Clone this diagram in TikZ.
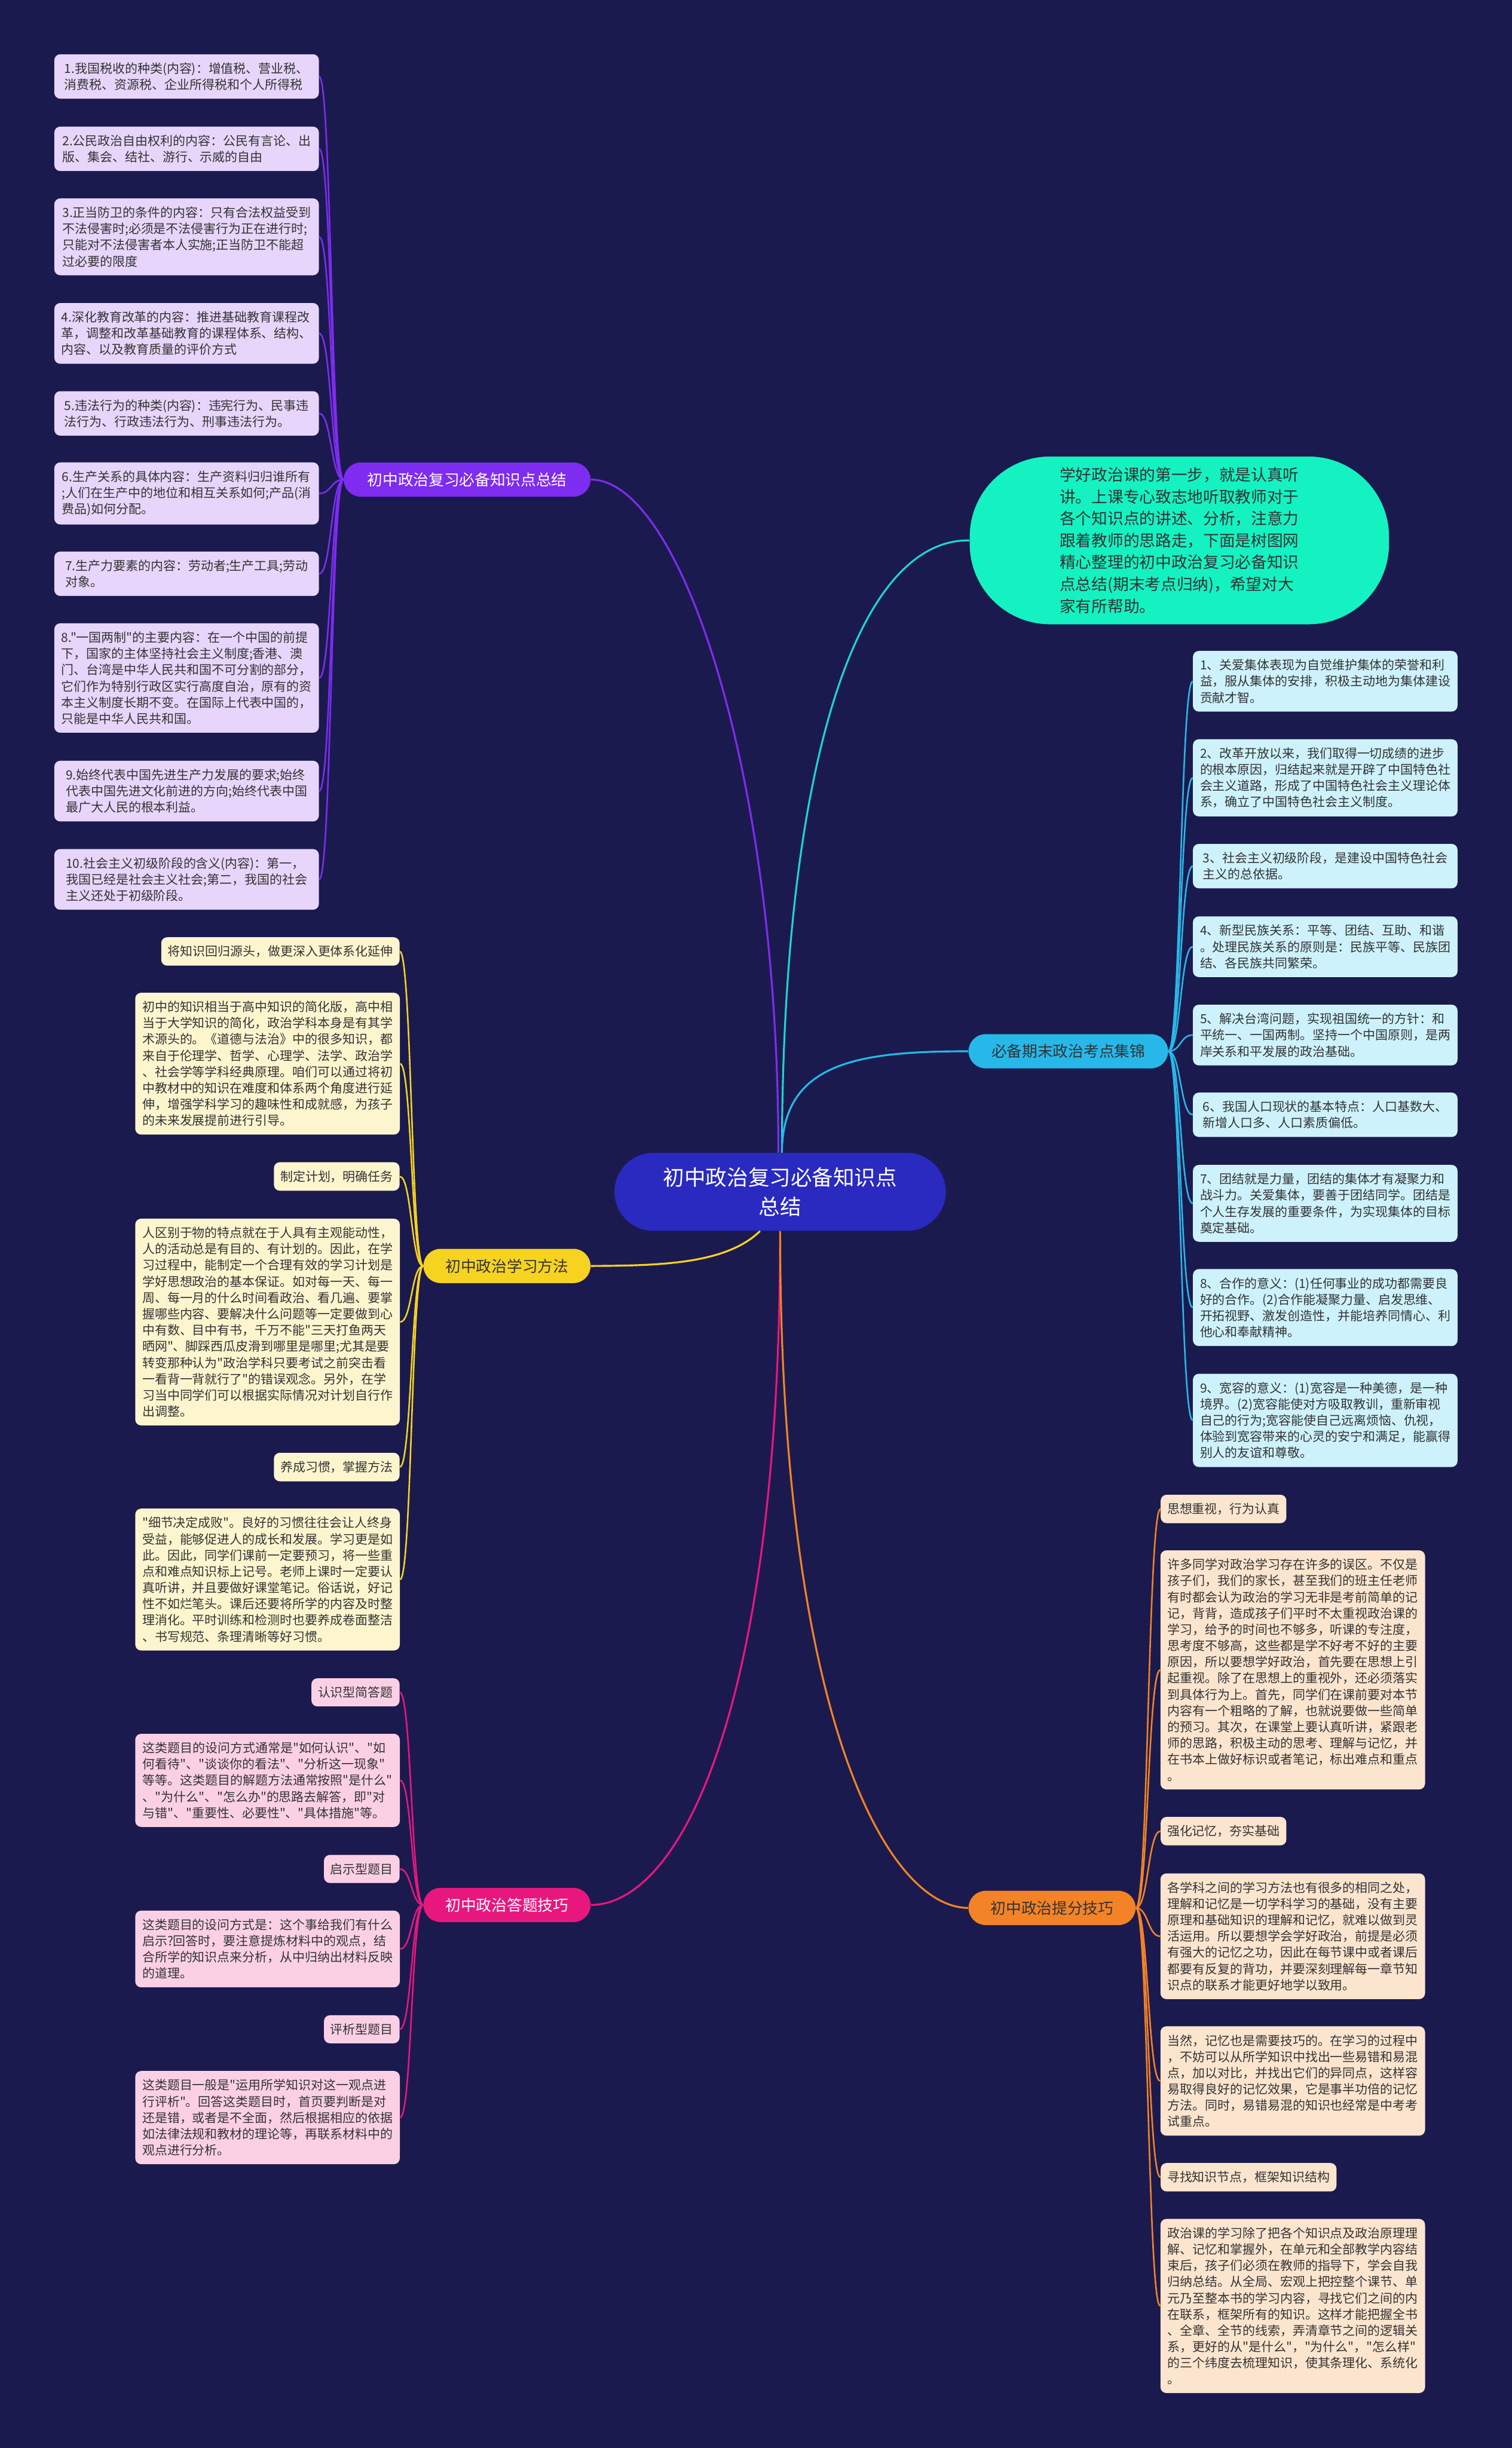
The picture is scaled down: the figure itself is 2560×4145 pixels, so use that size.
\documentclass[tikz,border=0pt]{standalone}
\usepackage{fontspec}
\setmainfont{Noto Sans CJK SC}[Ligatures=TeXOff]
\usetikzlibrary{positioning}

\definecolor{bgnavy}{HTML}{1B1A4E}
\definecolor{rootblue}{HTML}{2A2AC0}
\definecolor{leaftext}{HTML}{333333}
\definecolor{kpline}{HTML}{7E2CF0}
\definecolor{kpfill}{HTML}{E7D5FB}
\definecolor{xfline}{HTML}{F6D321}
\definecolor{xffill}{HTML}{FDF5CE}
\definecolor{dtline}{HTML}{E8177E}
\definecolor{dtfill}{HTML}{FBD0E5}
\definecolor{kdline}{HTML}{27B8E9}
\definecolor{kdfill}{HTML}{CDF2FC}
\definecolor{tfline}{HTML}{F38326}
\definecolor{tffill}{HTML}{FCE5CE}
\definecolor{introfill}{HTML}{14F2C2}
\definecolor{introline}{HTML}{1FD3D2}

\newcommand{\leaffont}{\fontsize{10.6}{13.75}\selectfont}

\tikzset{
  leaf/.style={rounded corners=5pt, align=left, text=leaftext, font=\leaffont,
    inner xsep=5.5pt, inner ysep=7pt},
  widebox/.style={minimum width=224pt},
  kpleaf/.style={leaf, fill=kpfill},
  xfleaf/.style={leaf, fill=xffill},
  dtleaf/.style={leaf, fill=dtfill},
  kdleaf/.style={leaf, fill=kdfill},
  tfleaf/.style={leaf, fill=tffill},
  branch/.style={rounded corners=14.5pt, minimum height=29pt, inner xsep=0pt,
    font=\fontsize{13}{15}\selectfont},
  trunk/.style={line width=1.6pt},
  twig/.style={line width=1.3pt}
}

\begin{document}
\begin{tikzpicture}[x=0.5pt,y=-0.5pt]
\useasboundingbox (0,0) rectangle (2560,4145);
\fill[bgnavy] (0,0) rectangle (2560,4145);

% centre
\node[fill=rootblue, text=white, rounded corners=33pt, minimum width=280.5pt, minimum height=66pt,
  align=center, font=\fontsize{18}{25}\selectfont] (root) at (1321,2018) {初中政治复习必备知识点\\总结};

% branches
\node[branch, fill=kpline, text=white, minimum width=209pt] (kp) at (791,812) {初中政治复习必备知识点总结};
\node[branch, fill=kdline, text=leaftext, minimum width=169pt] (kd) at (1809,1780) {必备期末政治考点集锦};
\node[branch, fill=xfline, text=leaftext, minimum width=141.5pt] (xf) at (858.5,2143.5) {初中政治学习方法};
\node[branch, fill=dtline, text=white, minimum width=141.5pt] (dt) at (858.5,3225.5) {初中政治答题技巧};
\node[branch, fill=tfline, text=leaftext, minimum width=141.5pt] (tf) at (1781.5,3230.5) {初中政治提分技巧};

\node[fill=introfill, text=leaftext, rounded corners=68pt, minimum width=355pt, minimum height=142pt,
  align=left, font=\fontsize{13.5}{18.5}\selectfont] (intro) at (1997,915)
  {学好政治课的第一步，就是认真听\\讲。上课专心致志地听取教师对于\\各个知识点的讲述、分析，注意力\\跟着教师的思路走，下面是树图网\\精心整理的初中政治复习必备知识\\点总结(期末考点归纳)，希望对大\\家有所帮助。};

\draw[trunk, kpline] ([xshift=-1.5pt]root.north) .. controls (1318,1300) and (1150,812) .. (kp.east);
\draw[trunk, introline] ([xshift=1.5pt]root.north) .. controls (1325,1300) and (1450,912) .. (intro.west);
\draw[trunk, kdline] ([xshift=1.5pt]root.north) .. controls (1325,1800) and (1450,1780) .. (kd.west);
\draw[trunk, xfline] ([xshift=-17pt]root.south) .. controls (1230,2140) and (1120,2143) .. (xf.east);
\draw[trunk, dtline] (root.south) .. controls (1321,2900) and (1150,3225) .. (dt.east);
\draw[trunk, tfline] (root.south) .. controls (1321,2900) and (1500,3230) .. (tf.west);

% left top: knowledge points
\node[kpleaf, widebox] (kp1) at (316,129.5) {1.我国税收的种类(内容)：增值税、营业税、\\消费税、资源税、企业所得税和个人所得税};
\node[kpleaf, widebox] (kp2) at (316,252) {2.公民政治自由权利的内容：公民有言论、出\\版、集会、结社、游行、示威的自由};
\node[kpleaf, widebox] (kp3) at (316,401) {3.正当防卫的条件的内容：只有合法权益受到\\不法侵害时;必须是不法侵害行为正在进行时;\\只能对不法侵害者本人实施;正当防卫不能超\\过必要的限度};
\node[kpleaf, widebox] (kp4) at (316,564.5) {4.深化教育改革的内容：推进基础教育课程改\\革，调整和改革基础教育的课程体系、结构、\\内容、以及教育质量的评价方式};
\node[kpleaf, widebox] (kp5) at (316,700) {5.违法行为的种类(内容)：违宪行为、民事违\\法行为、行政违法行为、刑事违法行为。};
\node[kpleaf, widebox] (kp6) at (316,835.5) {6.生产关系的具体内容：生产资料归归谁所有\\;人们在生产中的地位和相互关系如何;产品(消\\费品)如何分配。};
\node[kpleaf, widebox] (kp7) at (316,971.5) {7.生产力要素的内容：劳动者;生产工具;劳动\\对象。};
\node[kpleaf, widebox] (kp8) at (316,1148) {8."一国两制"的主要内容：在一个中国的前提\\下，国家的主体坚持社会主义制度;香港、澳\\门、台湾是中华人民共和国不可分割的部分，\\它们作为特别行政区实行高度自治，原有的资\\本主义制度长期不变。在国际上代表中国的，\\只能是中华人民共和国。};
\node[kpleaf, widebox] (kp9) at (316,1339.5) {9.始终代表中国先进生产力发展的要求;始终\\代表中国先进文化前进的方向;始终代表中国\\最广大人民的根本利益。};
\node[kpleaf, widebox] (kp10) at (316,1489) {10.社会主义初级阶段的含义(内容)：第一，\\我国已经是社会主义社会;第二，我国的社会\\主义还处于初级阶段。};

% left middle: study method
\node[xfleaf, anchor=east] (xf1) at (677,1611) {将知识回归源头，做更深入更体系化延伸};
\node[xfleaf, widebox] (xf2) at (453,1801) {初中的知识相当于高中知识的简化版，高中相\\当于大学知识的简化，政治学科本身是有其学\\术源头的。《道德与法治》中的很多知识，都\\来自于伦理学、哲学、心理学、法学、政治学\\、社会学等学科经典原理。咱们可以通过将初\\中教材中的知识在难度和体系两个角度进行延\\伸，增强学科学习的趣味性和成就感，为孩子\\的未来发展提前进行引导。};
\node[xfleaf, anchor=east] (xf3) at (677,1992) {制定计划，明确任务};
\node[xfleaf, widebox] (xf4) at (453,2238.5) {人区别于物的特点就在于人具有主观能动性，\\人的活动总是有目的、有计划的。因此，在学\\习过程中，能制定一个合理有效的学习计划是\\学好思想政治的基本保证。如对每一天、每一\\周、每一月的什么时间看政治、看几遍、要掌\\握哪些内容、要解决什么问题等一定要做到心\\中有数、目中有书，千万不能"三天打鱼两天\\晒网"、脚踩西瓜皮滑到哪里是哪里;尤其是要\\转变那种认为"政治学科只要考试之前突击看\\一看背一背就行了"的错误观念。另外，在学\\习当中同学们可以根据实际情况对计划自行作\\出调整。};
\node[xfleaf, anchor=east] (xf5) at (677,2484) {养成习惯，掌握方法};
\node[xfleaf, widebox] (xf6) at (453,2674.5) {"细节决定成败"。良好的习惯往往会让人终身\\受益，能够促进人的成长和发展。学习更是如\\此。因此，同学们课前一定要预习，将一些重\\点和难点知识标上记号。老师上课时一定要认\\真听讲，并且要做好课堂笔记。俗话说，好记\\性不如烂笔头。课后还要将所学的内容及时整\\理消化。平时训练和检测时也要养成卷面整洁\\、书写规范、条理清晰等好习惯。};

% left bottom: answering
\node[dtleaf, anchor=east] (dt1) at (677,2865.5) {认识型简答题};
\node[dtleaf, widebox] (dt2) at (453,3014.5) {这类题目的设问方式通常是"如何认识"、"如\\何看待"、"谈谈你的看法"、"分析这一现象"\\等等。这类题目的解题方法通常按照"是什么"\\、"为什么"、"怎么办"的思路去解答，即"对\\与错"、"重要性、必要性"、"具体措施"等。};
\node[dtleaf, anchor=east] (dt3) at (677,3164.5) {启示型题目};
\node[dtleaf, widebox] (dt4) at (453,3300) {这类题目的设问方式是：这个事给我们有什么\\启示?回答时，要注意提炼材料中的观点，结\\合所学的知识点来分析，从中归纳出材料反映\\的道理。};
\node[dtleaf, anchor=east] (dt5) at (677,3436) {评析型题目};
\node[dtleaf, widebox] (dt6) at (453,3585.5) {这类题目一般是"运用所学知识对这一观点进\\行评析"。回答这类题目时，首页要判断是对\\还是错，或者是不全面，然后根据相应的依据\\如法律法规和教材的理论等，再联系材料中的\\观点进行分析。};

% right one: exam points
\node[kdleaf, widebox] (kd1) at (2244,1153.5) {1、关爱集体表现为自觉维护集体的荣誉和利\\益，服从集体的安排，积极主动地为集体建设\\贡献才智。};
\node[kdleaf, widebox] (kd2) at (2244,1317) {2、改革开放以来，我们取得一切成绩的进步\\的根本原因，归结起来就是开辟了中国特色社\\会主义道路，形成了中国特色社会主义理论体\\系，确立了中国特色社会主义制度。};
\node[kdleaf, widebox] (kd3) at (2244,1466.5) {3、社会主义初级阶段，是建设中国特色社会\\主义的总依据。};
\node[kdleaf, widebox] (kd4) at (2244,1603) {4、新型民族关系：平等、团结、互助、和谐\\。处理民族关系的原则是：民族平等、民族团\\结、各民族共同繁荣。};
\node[kdleaf, widebox] (kd5) at (2244,1752.5) {5、解决台湾问题，实现祖国统一的方针：和\\平统一、一国两制。坚持一个中国原则，是两\\岸关系和平发展的政治基础。};
\node[kdleaf, widebox] (kd6) at (2244,1887.5) {6、我国人口现状的基本特点：人口基数大、\\新增人口多、人口素质偏低。};
\node[kdleaf, widebox] (kd7) at (2244,2037.5) {7、团结就是力量，团结的集体才有凝聚力和\\战斗力。关爱集体，要善于团结同学。团结是\\个人生存发展的重要条件，为实现集体的目标\\奠定基础。};
\node[kdleaf, widebox] (kd8) at (2244,2214) {8、合作的意义：(1)任何事业的成功都需要良\\好的合作。(2)合作能凝聚力量、启发思维、\\开拓视野、激发创造性，并能培养同情心、利\\他心和奉献精神。};
\node[kdleaf, widebox] (kd9) at (2244,2405) {9、宽容的意义：(1)宽容是一种美德，是一种\\境界。(2)宽容能使对方吸取教训，重新审视\\自己的行为;宽容能使自己远离烦恼、仇视，\\体验到宽容带来的心灵的安宁和满足，能赢得\\别人的友谊和尊敬。};

% right bottom: raising the score
\node[tfleaf, anchor=west] (tf1) at (1965,2555) {思想重视，行为认真};
\node[tfleaf, widebox] (tf2) at (2189,2827.5) {许多同学对政治学习存在许多的误区。不仅是\\孩子们，我们的家长，甚至我们的班主任老师\\有时都会认为政治的学习无非是考前简单的记\\记，背背，造成孩子们平时不太重视政治课的\\学习，给予的时间也不够多，听课的专注度，\\思考度不够高，这些都是学不好考不好的主要\\原因，所以要想学好政治，首先要在思想上引\\起重视。除了在思想上的重视外，还必须落实\\到具体行为上。首先，同学们在课前要对本节\\内容有一个粗略的了解，也就说要做一些简单\\的预习。其次，在课堂上要认真听讲，紧跟老\\师的思路，积极主动的思考、理解与记忆，并\\在书本上做好标识或者笔记，标出难点和重点\\。};
\node[tfleaf, anchor=west] (tf3) at (1965,3100.5) {强化记忆，夯实基础};
\node[tfleaf, widebox] (tf4) at (2189,3278.5) {各学科之间的学习方法也有很多的相同之处，\\理解和记忆是一切学科学习的基础，没有主要\\原理和基础知识的理解和记忆，就难以做到灵\\活运用。所以要想学会学好政治，前提是必须\\有强大的记忆之功，因此在每节课中或者课后\\都要有反复的背功，并要深刻理解每一章节知\\识点的联系才能更好地学以致用。};
\node[tfleaf, widebox] (tf5) at (2189,3523.5) {当然，记忆也是需要技巧的。在学习的过程中\\，不妨可以从所学知识中找出一些易错和易混\\点，加以对比，并找出它们的异同点，这样容\\易取得良好的记忆效果，它是事半功倍的记忆\\方法。同时，易错易混的知识也经常是中考考\\试重点。};
\node[tfleaf, anchor=west] (tf6) at (1965,3686.5) {寻找知识节点，框架知识结构};
\node[tfleaf, widebox] (tf7) at (2189,3904.5) {政治课的学习除了把各个知识点及政治原理理\\解、记忆和掌握外，在单元和全部教学内容结\\束后，孩子们必须在教师的指导下，学会自我\\归纳总结。从全局、宏观上把控整个课节、单\\元乃至整本书的学习内容，寻找它们之间的内\\在联系，框架所有的知识。这样才能把握全书\\、全章、全节的线索，弄清章节之间的逻辑关\\系，更好的从"是什么"，"为什么"，"怎么样"\\的三个纬度去梳理知识，使其条理化、系统化\\。};

% twigs
\foreach \i in {1,...,10} \draw[twig, kpline] (kp.west) .. controls +(-21,0) and +(21,0) .. (kp\i.east);
\foreach \i in {1,...,6} \draw[twig, xfline] (xf.west) .. controls +(-20,0) and +(20,0) .. (xf\i.east);
\foreach \i in {1,...,6} \draw[twig, dtline] (dt.west) .. controls +(-20,0) and +(20,0) .. (dt\i.east);
\foreach \i in {1,...,9} \draw[twig, kdline] (kd.east) .. controls +(21,0) and +(-21,0) .. (kd\i.west);
\foreach \i in {1,...,7} \draw[twig, tfline] (tf.east) .. controls +(21,0) and +(-21,0) .. (tf\i.west);

\end{tikzpicture}
\end{document}
